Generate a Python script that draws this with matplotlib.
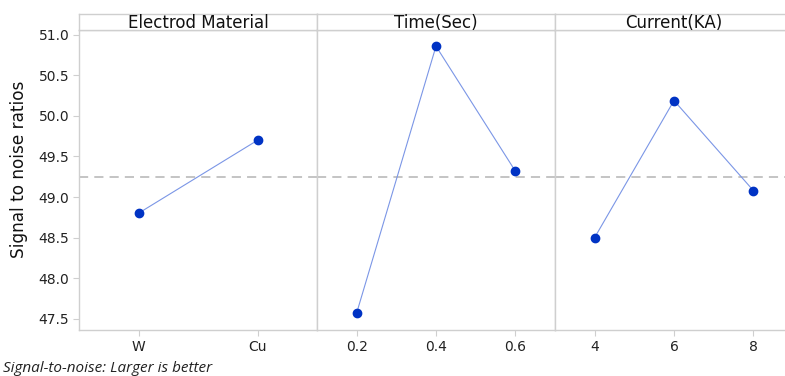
import matplotlib.pyplot as plt

# 面板标题与各因子水平
factors = ["Electrod Material", "Time(Sec)", "Current(KA)"]
levels_material = ["W", "Cu"]
levels_time = ["0.2", "0.4", "0.6"]
levels_current = ["4", "6", "8"]

# 信噪比均值
sn_material = [48.80, 49.70]
sn_time = [47.57, 50.86, 49.32]
sn_current = [48.50, 50.19, 49.08]
overall_mean = 49.25

yticks = [47.5, 48.0, 48.5, 49.0, 49.5, 50.0, 50.5, 51.0]

plt.rcParams['font.family'] = ['DejaVu Sans']

fig = plt.figure(figsize=(7.85, 3.76), dpi=100)

frame_col = "#cfcfcf"
line_col = "#7b96e6"
dot_col = "#0033c4"

left = 79 / 785
width = 238 / 785
bottom = 1 - 330 / 376
height = 300 / 376
strip_h = 16 / 376

panels = [(levels_material, sn_material),
          (levels_time, sn_time),
          (levels_current, sn_current)]

for i, (labels, vals) in enumerate(panels):
    x0 = left + i * width
    ax = fig.add_axes([x0, bottom, width, height])
    xs = list(range(len(labels)))
    ax.plot(xs, vals, color=line_col, lw=0.8, zorder=2)
    ax.plot(xs, vals, "o", color=dot_col, ms=6, zorder=3)
    ax.axhline(overall_mean, color="#b4b4b4", lw=1.1, ls=(0, (6, 4)), zorder=1)
    ax.set_xlim(-0.5, len(labels) - 0.5)
    ax.set_ylim(47.36, 51.06)
    ax.set_xticks(xs)
    ax.set_xticklabels(labels)
    ax.set_yticks(yticks)
    for s in ax.spines.values():
        s.set_color(frame_col)
        s.set_linewidth(1.0)
    ax.tick_params(axis="x", colors=frame_col, labelcolor="#222222",
                   labelsize=10, length=4, pad=3)
    if i == 0:
        ax.set_yticklabels([f"{t:.1f}" for t in yticks])
        ax.tick_params(axis="y", colors=frame_col, labelcolor="#222222",
                       labelsize=10, length=4, pad=3)
        ax.set_ylabel("Signal to noise ratios", fontsize=12.2, color="#111111")
        ax.yaxis.set_label_coords(-0.215, 0.537)
    else:
        ax.tick_params(axis="y", left=False, labelleft=False)

    # 顶部标题条
    strip = fig.add_axes([x0, bottom + height, width, strip_h])
    strip.set_xticks([])
    strip.set_yticks([])
    for s in strip.spines.values():
        s.set_color(frame_col)
        s.set_linewidth(1.0)
    strip.text(0.5, 0.45, factors[i], ha="center", va="center",
               fontsize=12, color="#111111", transform=strip.transAxes)

fig.text(0.004, 0.02, "Signal-to-noise: Larger is better",
         fontsize=11, style="italic", family=["Open Sans", "DejaVu Sans"],
         color="#222222", ha="left", va="center")

fig.savefig("out.png", dpi=100)
